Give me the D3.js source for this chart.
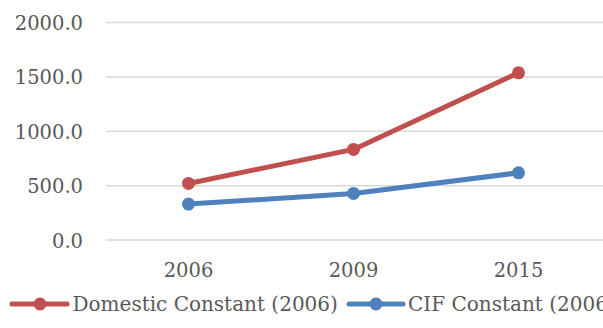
<!DOCTYPE html>
<html>
<head>
<meta charset="utf-8">
<script src="https://cdn.jsdelivr.net/npm/d3@7"></script>
<style>
  html, body { margin: 0; padding: 0; background: #fff; }
  svg { display: block; }
</style>
</head>
<body>
<svg id="chart" width="603" height="328"></svg>
<script>
// Years on the category axis
const years = ["2006", "2009", "2015"];
// Series values
const domesticConstant = [520, 833, 1537];
const cifConstant = [330, 428, 618];
// Value axis ticks
const yTicks = [0, 500, 1000, 1500, 2000];
const seriesNames = ["Domestic Constant (2006)", "CIF Constant (2006)"];
const seriesColors = ["#C0504D", "#4F81BD"];

const font = "'DejaVu Serif', serif";
const textColor = "#595959";

const svg = d3.select("#chart");
const W = 603;
const plot = { left: 106, right: 601, top: 22.5, bottom: 240 };

const x = d3.scaleBand().domain(years).range([plot.left, plot.right]);
const y = d3.scaleLinear().domain([0, 2000]).range([plot.bottom, plot.top]);
const cx = (d, i) => x(years[i]) + x.bandwidth() / 2;

// Horizontal gridlines
svg.append("g")
  .selectAll("line")
  .data(yTicks)
  .join("line")
  .attr("x1", plot.left).attr("x2", W)
  .attr("y1", d => y(d)).attr("y2", d => y(d))
  .attr("stroke", "#D9D9D9").attr("stroke-width", 1.5);

// Value axis labels
const yAxis = d3.axisLeft(y).tickValues(yTicks).tickFormat(d3.format(".1f")).tickSize(0).tickPadding(0);
const gy = svg.append("g").attr("transform", "translate(83,0)").call(yAxis);
gy.select(".domain").remove();
gy.selectAll("text")
  .style("font-family", font).style("font-size", "19.5px")
  .attr("fill", textColor).attr("dy", "0.36em");

// Category axis labels
const xAxis = d3.axisBottom(x).tickSize(0).tickPadding(0);
const gx = svg.append("g").attr("transform", "translate(0,263)").call(xAxis);
gx.select(".domain").remove();
gx.selectAll("text")
  .style("font-family", font).style("font-size", "19.5px")
  .attr("fill", textColor).attr("dy", "0.73em");

// Series lines with round markers
const line = d3.line().x(cx).y(d => y(d));
[domesticConstant, cifConstant].forEach((vals, s) => {
  const g = svg.append("g");
  g.append("path")
    .datum(vals)
    .attr("d", line)
    .attr("fill", "none")
    .attr("stroke", seriesColors[s])
    .attr("stroke-width", 5)
    .attr("stroke-linejoin", "round")
    .attr("stroke-linecap", "round");
  g.selectAll("circle")
    .data(vals)
    .join("circle")
    .attr("cx", cx)
    .attr("cy", d => y(d))
    .attr("r", 6.5)
    .attr("fill", seriesColors[s]);
});

// Legend
const legendY = 304;
const legendItems = [
  { x0: 12, x1: 67, mx: 40, tx: 72.5 },
  { x0: 349, x1: 403, mx: 376, tx: 408 }
];
legendItems.forEach((it, s) => {
  const g = svg.append("g");
  g.append("line")
    .attr("x1", it.x0).attr("x2", it.x1)
    .attr("y1", legendY).attr("y2", legendY)
    .attr("stroke", seriesColors[s]).attr("stroke-width", 5).attr("stroke-linecap", "round");
  g.append("circle").attr("cx", it.mx).attr("cy", legendY).attr("r", 6.5).attr("fill", seriesColors[s]);
  g.append("text")
    .attr("x", it.tx).attr("y", legendY)
    .attr("dy", "0.36em")
    .style("font-family", font)
    .style("font-size", "20px")
    .attr("fill", textColor)
    .text(seriesNames[s]);
});
</script>
</body>
</html>
